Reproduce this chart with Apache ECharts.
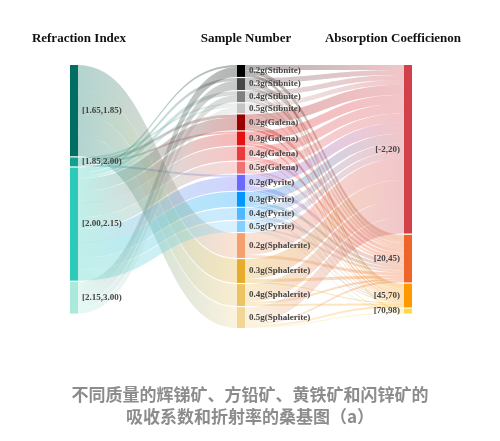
<!DOCTYPE html>
<html>
<head>
<meta charset="utf-8">
<script src="https://cdn.jsdelivr.net/npm/echarts@6/dist/echarts.min.js"></script>
<style>
  html, body { margin: 0; padding: 0; background: #fff; }
  #chart { width: 500px; height: 441px; }
</style>
</head>
<body>
<div id="chart"></div>
<script>
// ============================================================
// 桑基图：折射率 -> 样品 -> 吸收系数
// ============================================================

var LEFT_NAMES = ['[1.65,1.85)', '[1.85,2.00)', '[2.00,2.15)', '[2.15,3.00)'];
var MID_NAMES = [
  '0.2g(Stibnite)', '0.3g(Stibnite)', '0.4g(Stibnite)', '0.5g(Stibnite)',
  '0.2g(Galena)', '0.3g(Galena)', '0.4g(Galena)', '0.5g(Galena)',
  '0.2g(Pyrite)', '0.3g(Pyrite)', '0.4g(Pyrite)', '0.5g(Pyrite)',
  '0.2g(Sphalerite)', '0.3g(Sphalerite)', '0.4g(Sphalerite)', '0.5g(Sphalerite)'
];
var RIGHT_NAMES = ['[-2,20)', '[20,45)', '[45,70)', '[70,98)'];

var LEFT_COLORS = ['#006e62', '#12a08f', '#2ecab9', '#ade9da'];
var MID_COLORS = [
  '#000000', '#474747', '#808080', '#c4c4c4',
  '#9a0000', '#e61212', '#ea3c3c', '#ef7373',
  '#6a6aff', '#0098ff', '#4fb9ff', '#83d0ff',
  '#f3a06e', '#e7ad2a', '#edc460', '#f2d693'
];
var RIGHT_COLORS = ['#d2404a', '#ef6428', '#ff9900', '#ffd84a'];

// 折射率区间 -> 样品（行：折射率区间，列：样品）
var LEFT_TO_MID = [
  [0, 0, 0, 0, 0, 0, 0, 0, 0, 0, 0, 0, 25, 24, 22, 21],
  [0, 0, 0, 2, 3, 2, 0, 0, 2, 0, 0, 0, 0, 0, 0, 0],
  [2, 3, 4, 2, 13, 12, 14, 12, 14, 15, 12, 11, 0, 0, 0, 0],
  [10, 9, 7, 6, 0, 0, 0, 0, 0, 0, 0, 0, 0, 0, 0, 0]
];

// 样品 -> 吸收系数区间（行：样品，列：吸收系数区间）
var MID_TO_RIGHT = [
  [5, 4, 3, 0], [5, 4, 2, 1], [5, 3, 2, 1], [5, 3, 2, 0],
  [10, 4, 2, 0], [9, 3, 2, 0], [10, 3, 1, 0], [9, 2, 1, 0],
  [11, 4, 1, 0], [10, 3, 1, 1], [8, 3, 1, 0], [7, 2, 1, 1],
  [22, 3, 0, 0], [20, 3, 1, 0], [18, 2, 2, 0], [16, 2, 2, 1]
];

var COLUMN_TITLES = ['Refraction Index', 'Sample Number', 'Absorption Coefficienon'];
var CAPTION_LINES = ['不同质量的辉锑矿、方铅矿、黄铁矿和闪锌矿的', '吸收系数和折射率的桑基图（a）'];

var SERIF = '"Liberation Serif", "Times New Roman", serif';

function buildNodes() {
  var nodes = [];
  LEFT_NAMES.forEach(function(name, i) {
    nodes.push({ name: name, itemStyle: { color: LEFT_COLORS[i] } });
  });
  MID_NAMES.forEach(function(name, i) {
    nodes.push({ name: name, itemStyle: { color: MID_COLORS[i] } });
  });
  RIGHT_NAMES.forEach(function(name, i) {
    nodes.push({ name: name, itemStyle: { color: RIGHT_COLORS[i] }, label: { position: 'left' } });
  });
  return nodes;
}

function buildLinks() {
  var links = [];
  LEFT_TO_MID.forEach(function(row, i) {
    row.forEach(function(v, j) {
      if (v > 0) links.push({ source: LEFT_NAMES[i], target: MID_NAMES[j], value: v });
    });
  });
  MID_TO_RIGHT.forEach(function(row, i) {
    row.forEach(function(v, j) {
      if (v > 0) links.push({ source: MID_NAMES[i], target: RIGHT_NAMES[j], value: v });
    });
  });
  return links;
}

var chart = echarts.init(document.getElementById('chart'));

var titleStyle = { fontFamily: SERIF, fontWeight: 'bold', fontSize: 13, color: '#111' };
var titleX = [74, 241, 388];

chart.setOption({
  backgroundColor: '#fff',
  animation: false,
  title: COLUMN_TITLES.map(function(t, i) {
    return { text: t, left: titleX[i], top: 27, textAlign: 'center', textStyle: titleStyle };
  }),
  graphic: CAPTION_LINES.map(function(line, i) {
    return {
      type: 'text',
      left: 'center',
      top: 386 + i * 22,
      style: {
        text: line,
        font: 'bold 17px "Noto Sans CJK SC", sans-serif',
        fill: '#8c8c8c'
      }
    };
  }),
  series: [{
    type: 'sankey',
    left: 70,
    right: 88,
    top: 65,
    bottom: 113,
    nodeWidth: 8,
    nodeGap: 1.2,
    layoutIterations: 0,
    draggable: false,
    emphasis: { disabled: true },
    data: buildNodes(),
    links: buildLinks(),
    label: {
      position: 'right',
      distance: 4,
      fontFamily: SERIF,
      fontWeight: 'bold',
      fontSize: 9,
      color: '#444'
    },
    itemStyle: { borderWidth: 0 },
    lineStyle: { color: 'gradient', opacity: 0.3, curveness: 0.5 }
  }]
});
</script>
</body>
</html>
